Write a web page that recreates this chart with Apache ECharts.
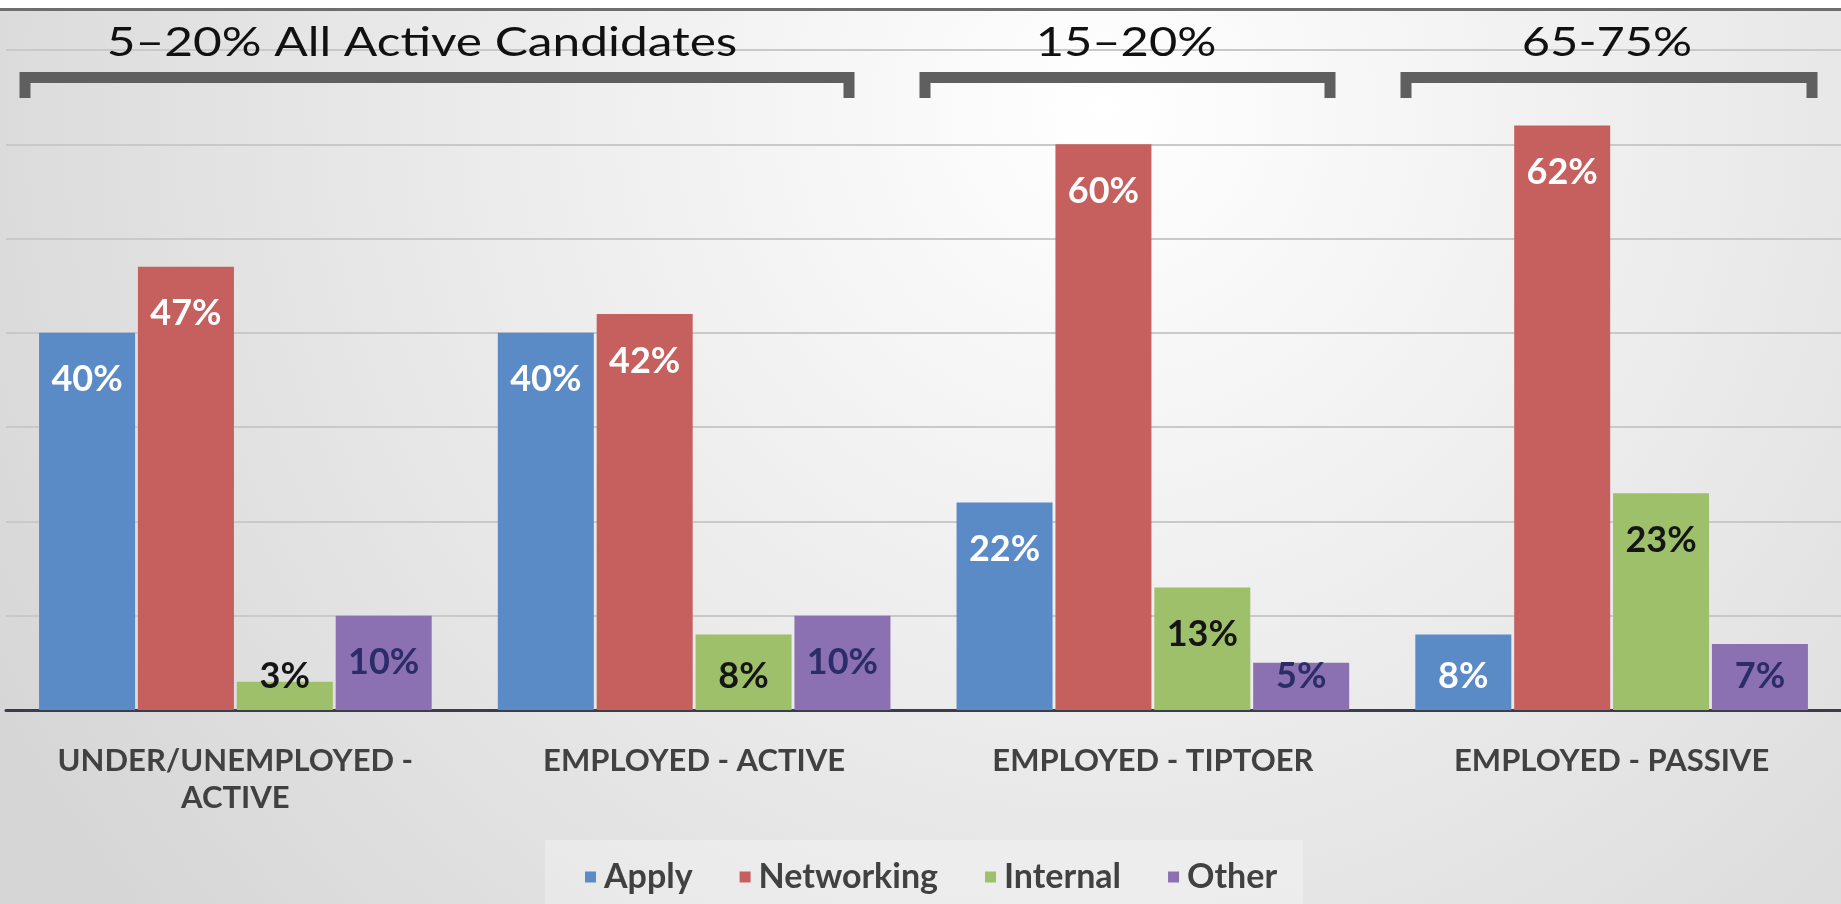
<!DOCTYPE html>
<html>
<head>
<meta charset="utf-8">
<style>
  html, body { margin: 0; padding: 0; width: 1841px; height: 904px; overflow: hidden; }
  #chart { width: 1841px; height: 904px; }
</style>
<script src="https://cdn.jsdelivr.net/npm/echarts@6/dist/echarts.min.js"></script>
</head>
<body>
<div id="chart"></div>
<script>
const categories = ['UNDER/UNEMPLOYED -\nACTIVE', 'EMPLOYED - ACTIVE', 'EMPLOYED - TIPTOER', 'EMPLOYED - PASSIVE'];
const seriesNames = ['Apply', 'Networking', 'Internal', 'Other'];
const applyValues = [40, 40, 22, 8];
const networkingValues = [47, 42, 60, 62];
const internalValues = [3, 8, 13, 23];
const otherValues = [10, 10, 5, 7];
const groupTitles = ['5–20% All Active Candidates', '15–20%', '65-75%'];
const yTicks = [0, 10, 20, 30, 40, 50, 60, 70];

const colors = ['#5b8bc6', '#c6605e', '#9fc06a', '#8b70b2'];
const labelColors = ['#ffffff', '#ffffff', '#151515', '#2b2d68'];
const FONT = 'Lato, "Open Sans", sans-serif';

function buildData(values) {
  return values.map(v => {
    const small = v <= 8;
    return {
      value: v,
      label: small
        ? { position: 'insideBottom', distance: 16 }
        : { position: 'insideTop', distance: 29 }
    };
  });
}

const allValues = [applyValues, networkingValues, internalValues, otherValues];

const chart = echarts.init(document.getElementById('chart'));
const option = {
  backgroundColor: {
    type: 'radial', x: 0.6, y: 0.12, r: 1.4,
    colorStops: [
      { offset: 0, color: '#ffffff' },
      { offset: 0.5, color: '#ebebeb' },
      { offset: 1, color: '#d6d6d6' }
    ]
  },
  animation: false,
  grid: { left: 6, right: 0, top: 50, bottom: 194, containLabel: false },
  xAxis: {
    type: 'category',
    data: categories,
    axisTick: { show: false },
    axisLine: { lineStyle: { color: '#3b3d48', width: 3 } },
    axisLabel: {
      interval: 0, margin: 32,
      fontFamily: FONT, fontWeight: 'bold', fontSize: 31,
      lineHeight: 37, color: '#414141'
    }
  },
  yAxis: {
    type: 'value', min: yTicks[0], max: yTicks[yTicks.length - 1], interval: 10,
    axisLabel: { show: false },
    axisLine: { show: false },
    axisTick: { show: false },
    splitLine: { lineStyle: { color: '#c9c9c9', width: 2 } }
  },
  legend: {
    data: seriesNames,
    left: 545, top: 840,
    padding: [20, 26, 12, 40],
    backgroundColor: 'rgba(255,255,255,0.28)',
    icon: 'rect', itemWidth: 11, itemHeight: 11, itemGap: 47,
    textStyle: { fontFamily: FONT, fontWeight: 'bold', fontSize: 34, color: '#414141', padding: [0, 0, 0, 3] }
  },
  series: seriesNames.map((name, i) => ({
    name: name,
    type: 'bar',
    data: buildData(allValues[i]),
    barWidth: 96,
    barGap: '3%',
    itemStyle: { color: colors[i] },
    label: {
      show: true,
      formatter: '{c}%',
      fontFamily: FONT, fontWeight: 'bold', fontSize: 36, lineHeight: 36,
      color: labelColors[i]
    }
  })),
  graphic: [
    { type: 'rect', shape: { x: 0, y: 0, width: 1841, height: 8 }, style: { fill: '#ffffff' }, z: 100 },
    { type: 'line', shape: { x1: 0, y1: 9.5, x2: 1841, y2: 9.5 }, style: { stroke: '#6e6e6e', lineWidth: 3 }, z: 100 },
    { type: 'polyline', shape: { points: [[25, 98], [25, 77.5], [849, 77.5], [849, 98]] }, style: { stroke: '#5f5f5f', lineWidth: 11, fill: null }, z: 100 },
    { type: 'polyline', shape: { points: [[925, 98], [925, 77.5], [1330, 77.5], [1330, 98]] }, style: { stroke: '#5f5f5f', lineWidth: 11, fill: null }, z: 100 },
    { type: 'polyline', shape: { points: [[1406, 98], [1406, 77.5], [1812, 77.5], [1812, 98]] }, style: { stroke: '#5f5f5f', lineWidth: 11, fill: null }, z: 100 },
    { type: 'text', x: 422, y: 43, scaleX: 1.24, style: { text: groupTitles[0], font: '40px Lato, sans-serif', fill: '#111111', textAlign: 'center', textVerticalAlign: 'middle' }, z: 100 },
    { type: 'text', x: 1126, y: 43, scaleX: 1.22, style: { text: groupTitles[1], font: '40px Lato, sans-serif', fill: '#111111', textAlign: 'center', textVerticalAlign: 'middle' }, z: 100 },
    { type: 'text', x: 1607, y: 43, scaleX: 1.22, style: { text: groupTitles[2], font: '40px Lato, sans-serif', fill: '#111111', textAlign: 'center', textVerticalAlign: 'middle' }, z: 100 }
  ]
};
chart.setOption(option);
</script>
</body>
</html>
